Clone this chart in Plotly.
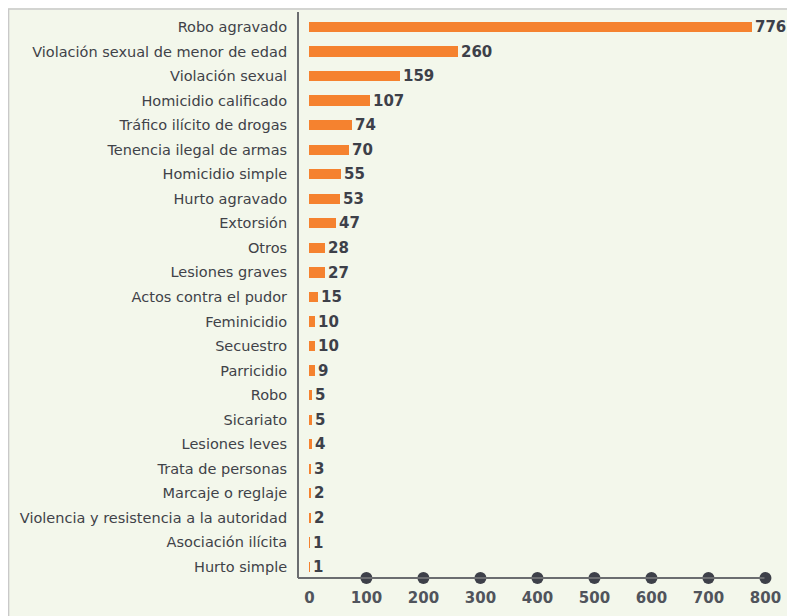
import plotly.graph_objects as go

# crime categories, top to bottom as in the chart
categories = [
    "Robo agravado", "Violación sexual de menor de edad", "Violación sexual",
    "Homicidio calificado", "Tráfico ilícito de drogas", "Tenencia ilegal de armas",
    "Homicidio simple", "Hurto agravado", "Extorsión", "Otros", "Lesiones graves",
    "Actos contra el pudor", "Feminicidio", "Secuestro", "Parricidio", "Robo",
    "Sicariato", "Lesiones leves", "Trata de personas", "Marcaje o reglaje",
    "Violencia y resistencia a la autoridad", "Asociación ilícita", "Hurto simple",
]
counts = [776, 260, 159, 107, 74, 70, 55, 53, 47, 28, 27, 15, 10, 10, 9, 5, 5, 4, 3, 2, 2, 1, 1]
xticks = [0, 100, 200, 300, 400, 500, 600, 700, 800]

ORANGE = "#f5822f"
DARK = "#3d4049"
BG = "#f3f7eb"

n = len(categories)
ypos = [n - 1 - i for i in range(n)]

fig = go.Figure()

fig.add_trace(go.Bar(
    x=counts, y=ypos, orientation="h",
    width=0.42,
    marker=dict(color=ORANGE, line=dict(width=0)),
    text=counts, textposition="outside",
    constraintext="none",
    textfont=dict(family="DejaVu Sans", size=15, color=DARK, weight="bold"),
    cliponaxis=False, hoverinfo="skip",
))

# round tick markers sitting on the x axis line
fig.add_trace(go.Scatter(
    x=xticks[1:], y=[-0.45] * (len(xticks) - 1), mode="markers",
    marker=dict(size=12, color=DARK), cliponaxis=False, hoverinfo="skip",
))

fig.update_layout(
    width=787, height=608,
    margin=dict(l=290, r=21, t=4, b=38, autoexpand=False),
    paper_bgcolor=BG, plot_bgcolor="rgba(0,0,0,0)",
    showlegend=False,
    bargap=0,
    shapes=[dict(
        type="rect", xref="paper", yref="paper",
        x0=-0.608, x1=1.1, y0=-0.2, y1=1.0055,
        fillcolor="rgba(0,0,0,0)", line=dict(color="#c9c9c9", width=1.5), layer="below",
    )],
    xaxis=dict(
        range=[-20, 815], tickvals=xticks, ticktext=[str(v) for v in xticks],
        showgrid=False, zeroline=False, automargin=False,
        showline=False, ticks="outside", ticklen=6, tickcolor="rgba(0,0,0,0)",
        tickfont=dict(family="DejaVu Sans", size=15, color="#50545c", weight="bold"),
    ),
    yaxis=dict(
        range=[-0.45, n - 1 + 0.61], tickvals=ypos, ticktext=categories,
        showgrid=False, zeroline=False, showline=False, automargin=False,
        ticks="outside", ticklen=7, tickcolor="rgba(0,0,0,0)",
        tickfont=dict(family="DejaVu Sans", size=14.5, color="#404248"),
    ),
)

# axis lines (L-shaped frame)
fig.add_shape(type="line", xref="paper", yref="paper", x0=0, x1=0, y0=0, y1=1,
              line=dict(color="#6b6d70", width=2))
fig.add_shape(type="line", xref="paper", yref="paper", x0=0, x1=0.98, y0=0, y1=0,
              line=dict(color="#6b6d70", width=2))

fig.write_html("out.html")
